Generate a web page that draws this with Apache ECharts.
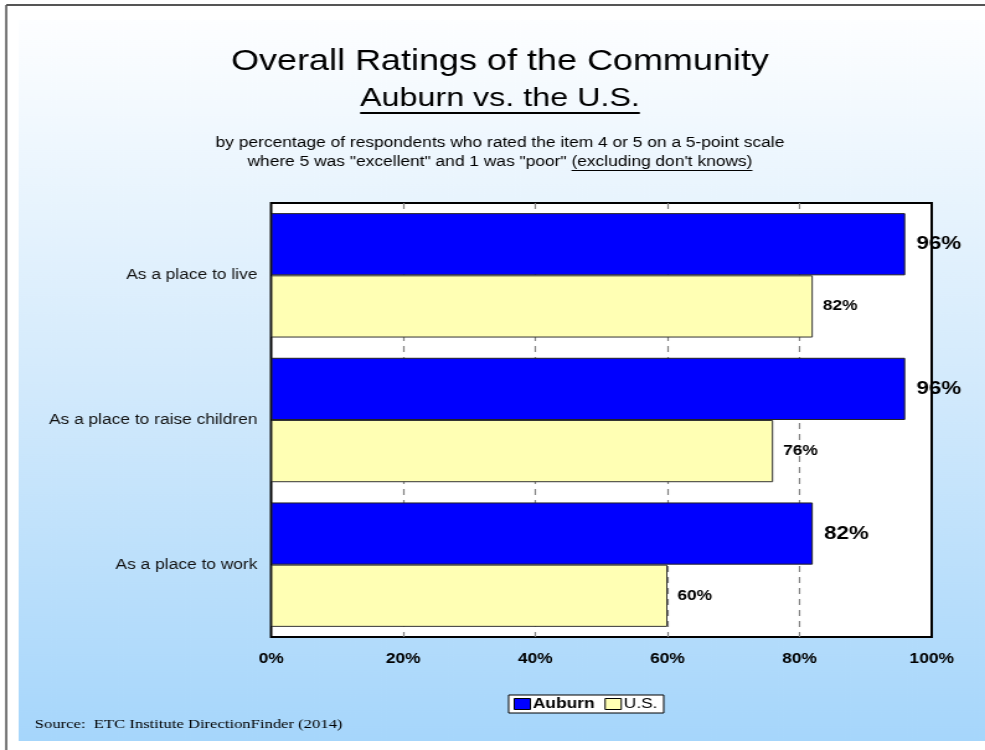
<!DOCTYPE html>
<html>
<head>
<meta charset="utf-8">
<title>Overall Ratings of the Community</title>
<script src="https://cdn.jsdelivr.net/npm/echarts@6/dist/echarts.min.js"></script>
<style>
  html, body { margin: 0; padding: 0; background: #ffffff; overflow: hidden; }
  /* the slide is laid out at 794px and widened to fill the 985px window */
  #chart { width: 794px; height: 750px; transform: scaleX(1.2406); transform-origin: 0 0; }
</style>
</head>
<body>
<div id="chart"></div>
<script>
// Survey items (top to bottom)
const categories = ['As a place to live', 'As a place to raise children', 'As a place to work'];
// Percent rating 4 or 5
const auburnValues = [96, 96, 82];
const usValues = [82, 76, 60];
const seriesNames = ['Auburn', 'U.S.'];
const xTicks = [0, 20, 40, 60, 80, 100];

const FONT = '"Liberation Sans", Arial, sans-serif';
const SERIF = '"Liberation Serif", "Times New Roman", serif';

function textWidth(str, font) {
  const ctx = document.createElement('canvas').getContext('2d');
  ctx.font = font;
  return ctx.measureText(str).width;
}

const chart = echarts.init(document.getElementById('chart'), null, { renderer: 'canvas' });

// heading pieces
const title1 = 'Overall Ratings of the Community';
const title2 = 'Auburn vs. the U.S.';
const sub1 = 'by percentage of respondents who rated the item 4 or 5 on a 5-point scale';
const sub2a = 'where 5 was "excellent" and 1 was "poor" ';
const sub2b = "(excluding don't knows)";

const cx = 403;
const t2w = textWidth(title2, '26px ' + FONT);
const s2aw = textWidth(sub2a, '14px ' + FONT);
const s2bw = textWidth(sub2b, '14px ' + FONT);
const s2Left = cx - (s2aw + s2bw) / 2;

chart.setOption({
  animation: false,
  textStyle: { fontFamily: FONT },
  graphic: [
    // slide backdrop with soft blue gradient
    {
      type: 'rect', z: -100, silent: true,
      shape: { x: 15, y: 20, width: 780, height: 721 },
      style: {
        fill: new echarts.graphic.LinearGradient(0, 0, 0, 1, [
          { offset: 0, color: '#fdfeff' },
          { offset: 0.5, color: '#d3eafc' },
          { offset: 1, color: '#a6d6fb' }
        ])
      }
    },
    // frame lines
    { type: 'line', z: -90, silent: true, shape: { x1: 5, y1: 5, x2: 794, y2: 5 }, style: { stroke: '#555', lineWidth: 2 } },
    { type: 'line', z: -90, silent: true, shape: { x1: 5, y1: 5, x2: 5, y2: 750 }, style: { stroke: '#555', lineWidth: 1.6 } },
    // headings
    {
      type: 'text', x: cx, y: 62,
      style: { text: title1, font: '29px ' + FONT, fill: '#000', align: 'center', verticalAlign: 'middle' }
    },
    {
      type: 'text', x: cx, y: 99,
      style: { text: title2, font: '26px ' + FONT, fill: '#000', align: 'center', verticalAlign: 'middle' }
    },
    { type: 'line', shape: { x1: cx - t2w / 2, y1: 113, x2: cx + t2w / 2, y2: 113 }, style: { stroke: '#000', lineWidth: 2 } },
    {
      type: 'text', x: cx, y: 143,
      style: { text: sub1, font: '14px ' + FONT, fill: '#000', align: 'center', verticalAlign: 'middle' }
    },
    {
      type: 'text', x: s2Left, y: 162,
      style: { text: sub2a, font: '14px ' + FONT, fill: '#000', align: 'left', verticalAlign: 'middle' }
    },
    {
      type: 'text', x: s2Left + s2aw, y: 162,
      style: { text: sub2b, font: '14px ' + FONT, fill: '#000', align: 'left', verticalAlign: 'middle' }
    },
    { type: 'line', shape: { x1: s2Left + s2aw, y1: 170.5, x2: s2Left + s2aw + s2bw, y2: 170.5 }, style: { stroke: '#000', lineWidth: 1 } },
    // source note
    {
      type: 'text', x: 28, y: 724,
      style: { text: 'Source:  ETC Institute DirectionFinder (2014)', font: '13.4px ' + SERIF, fill: '#000', align: 'left', verticalAlign: 'middle' }
    }
  ],
  legend: {
    data: seriesNames,
    left: 410, top: 695,
    orient: 'horizontal',
    backgroundColor: '#ffffff',
    borderColor: '#000',
    borderWidth: 1,
    borderRadius: 0,
    padding: [2, 5, 2, 4],
    itemWidth: 13, itemHeight: 11, itemGap: 8,
    icon: 'rect',
    itemStyle: { borderColor: '#000', borderWidth: 1 },
    formatter: function (name) { return name === 'Auburn' ? '{b|' + name + '}' : '{n|' + name + '}'; },
    textStyle: {
      color: '#000', fontSize: 14, padding: [0, 0, 0, -3],
      rich: {
        b: { fontWeight: 'bold', fontSize: 14, color: '#000', fontFamily: FONT },
        n: { fontSize: 14, color: '#000', fontFamily: FONT }
      }
    }
  },
  grid: {
    left: 218.5, right: 43, top: 203, bottom: 113,
    show: true, backgroundColor: '#ffffff', borderColor: '#000', borderWidth: 2,
    containLabel: false
  },
  xAxis: {
    type: 'value', min: 0, max: 100, interval: 20,
    axisLine: { show: false },
    axisTick: { show: false },
    axisLabel: {
      formatter: '{value}%', color: '#000', fontWeight: 'bold', fontSize: 14, margin: 15,
      customValues: xTicks
    },
    splitLine: {
      show: true, showMinLine: false, showMaxLine: false,
      lineStyle: { color: '#808080', type: [6, 5], width: 1.2 }
    }
  },
  yAxis: {
    type: 'category', data: categories, inverse: true,
    axisLine: { show: false },
    axisTick: { show: false },
    axisLabel: { color: '#111', fontSize: 14, margin: 11 },
    splitLine: { show: false }
  },
  series: [
    {
      name: seriesNames[0], type: 'bar', data: auburnValues,
      barGap: '0%', barCategoryGap: '14%',
      itemStyle: { color: '#0000ff', borderColor: '#222', borderWidth: 1 },
      label: { show: true, position: 'right', distance: 9, formatter: '{c}%', color: '#000', fontWeight: 'bold', fontSize: 18 }
    },
    {
      name: seriesNames[1], type: 'bar', data: usValues,
      barGap: '0%', barCategoryGap: '14%',
      itemStyle: { color: '#ffffb4', borderColor: '#333', borderWidth: 1 },
      label: { show: true, position: 'right', distance: 8, formatter: '{c}%', color: '#000', fontWeight: 'bold', fontSize: 14 }
    }
  ]
});
</script>
</body>
</html>
